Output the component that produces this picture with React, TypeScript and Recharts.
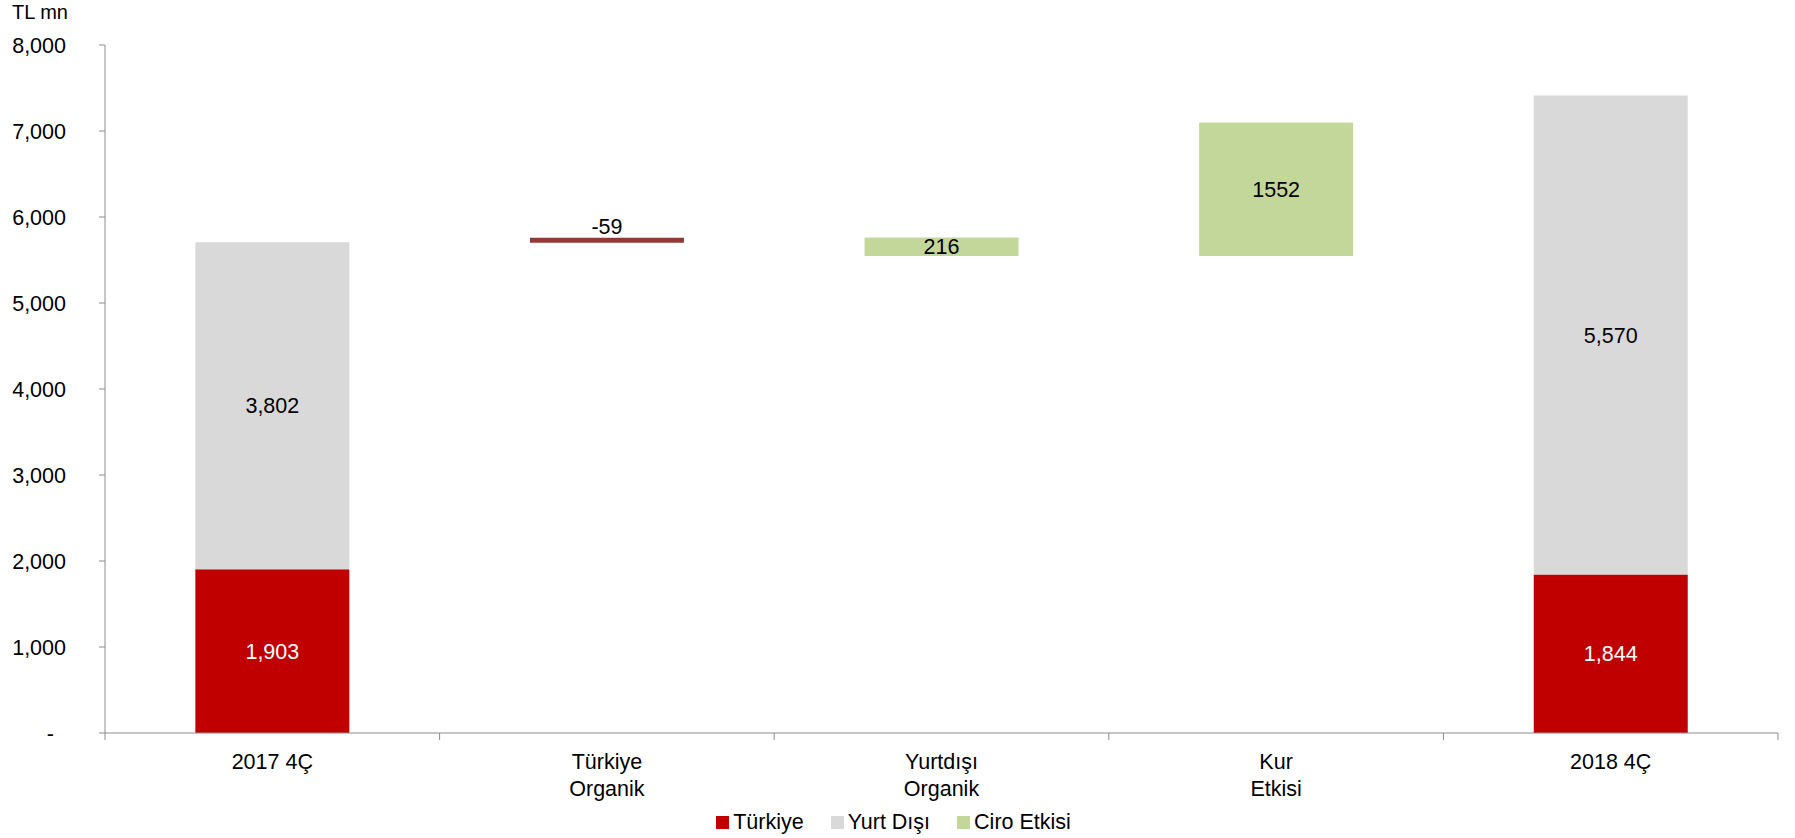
import React from "react";
import {
  BarChart,
  Bar,
  XAxis,
  YAxis,
  Legend,
  LabelList,
} from "recharts";

const FONT = "'Liberation Sans', Arial, sans-serif";

const C = {
  turkiye: "#C00000",
  yurtdisi: "#D9D9D9",
  ciro: "#C4D79B",
  neg: "#953735",
  axis: "#8c8c8c",
  text: "#000000",
};

// categories
const categories = ["2017 4Ç", "Türkiye\nOrganik", "Yurtdışı\nOrganik", "Kur\nEtkisi", "2018 4Ç"];
// invisible base for the floating bars (as drawn)
const baseValues = [0, 5700, 5546, 5546, 0];
const turkiyeValues = [1903, 0, 0, 0, 1844];
const yurtDisiValues = [3802, 0, 0, 0, 5570];
const negativeValues = [0, -59, 0, 0, 0];
const ciroValues = [0, 0, 216, 1552, 0];
const yTicks = [0, 1000, 2000, 3000, 4000, 5000, 6000, 7000, 8000];

const data = categories.map((name, i) => ({
  name,
  base: baseValues[i],
  turkiye: turkiyeValues[i] || null,
  yurtdisi: yurtDisiValues[i] || null,
  neg: negativeValues[i] ? Math.abs(negativeValues[i]) : null,
  negLabel: negativeValues[i] || null,
  ciro: ciroValues[i] || null,
}));

const fmt = (v: any) =>
  v == null || v === 0 ? "" : Number(v).toLocaleString("en-US");

function XTick(props: any) {
  const { x, y, payload, index, visibleTicksCount } = props;
  const half = payload?.offset ?? 0;
  const lines = String(payload.value).split("\n");
  const last = index === visibleTicksCount - 1;
  return (
    <g>
      <line x1={x - half} x2={x - half} y1={y} y2={y + 7} stroke={C.axis} />
      {last && (
        <line x1={x + half} x2={x + half} y1={y} y2={y + 7} stroke={C.axis} />
      )}
      <text
        x={x}
        y={y + 36}
        textAnchor="middle"
        fill={C.text}
        fontSize={21.5}
        fontFamily={FONT}
      >
        {lines.map((l, i) => (
          <tspan key={i} x={x} dy={i === 0 ? 0 : 27}>
            {l}
          </tspan>
        ))}
      </text>
    </g>
  );
}

function YTick(props: any) {
  const { x, y, payload } = props;
  const zero = payload.value === 0;
  return (
    <text
      x={zero ? x - 12 : x}
      y={y}
      dy="0.355em"
      textAnchor="end"
      fill={C.text}
      fontSize={21.5}
      fontFamily={FONT}
    >
      {zero ? "-" : Number(payload.value).toLocaleString("en-US")}
    </text>
  );
}

const legendItems = [
  { label: "Türkiye", color: C.turkiye },
  { label: "Yurt Dışı", color: C.yurtdisi },
  { label: "Ciro Etkisi", color: C.ciro },
];

function LegendContent() {
  return (
    <div
      style={{
        height: 32,
        display: "flex",
        justifyContent: "center",
        alignItems: "center",
        fontFamily: FONT,
        fontSize: 21.5,
        color: C.text,
        gap: 27,
        paddingRight: 8,
      }}
    >
      {legendItems.map((it) => (
        <div key={it.label} style={{ display: "flex", alignItems: "center", gap: 4 }}>
          <span style={{ width: 13, height: 13, background: it.color, display: "inline-block" }} />
          <span>{it.label}</span>
        </div>
      ))}
    </div>
  );
}

export default function App() {
  return (
    <div style={{ position: "absolute", left: 0, top: 0, background: "#fff" }}>
      <div
        style={{
          position: "absolute",
          left: 12,
          top: 0,
          fontFamily: FONT,
          fontSize: 20,
          lineHeight: "24px",
          color: C.text,
        }}
      >
        TL mn
      </div>
      <BarChart
        width={1795}
        height={838}
        data={data}
        margin={{ top: 45, right: 17, left: 0, bottom: 0 }}
        barCategoryGap="27%"
      >
        <XAxis
          dataKey="name"
          stroke={C.axis}
          tickLine={false}
          tickSize={0}
          tickMargin={0}
          height={73}
          interval={0}
          tick={<XTick />}
        />
        <YAxis
          domain={[0, 8000]}
          ticks={yTicks}
          stroke={C.axis}
          tickSize={6}
          tickMargin={33}
          width={105}
          interval={0}
          tick={<YTick />}
        />
        <Legend
          verticalAlign="bottom"
          content={<LegendContent />}
          wrapperStyle={{ left: 0, width: 1795, height: 32 }}
        />
        <Bar dataKey="base" stackId="a" fill="transparent" isAnimationActive={false} legendType="none" />
        <Bar dataKey="turkiye" stackId="a" fill={C.turkiye} isAnimationActive={false}>
          <LabelList dataKey="turkiye" position="center" fill="#ffffff" fontSize={21.5} fontFamily={FONT} formatter={fmt} />
        </Bar>
        <Bar dataKey="yurtdisi" stackId="a" fill={C.yurtdisi} isAnimationActive={false}>
          <LabelList dataKey="yurtdisi" position="center" fill={C.text} fontSize={21.5} fontFamily={FONT} formatter={fmt} />
        </Bar>
        <Bar dataKey="neg" stackId="a" fill={C.neg} isAnimationActive={false}>
          <LabelList dataKey="negLabel" position="top" offset={4} fill={C.text} fontSize={21.5} fontFamily={FONT} formatter={(v: any) => (v == null ? "" : String(v))} />
        </Bar>
        <Bar dataKey="ciro" stackId="a" fill={C.ciro} isAnimationActive={false}>
          <LabelList dataKey="ciro" position="center" fill={C.text} fontSize={21.5} fontFamily={FONT} formatter={(v: any) => (v == null ? "" : String(v))} />
        </Bar>
      </BarChart>
    </div>
  );
}
